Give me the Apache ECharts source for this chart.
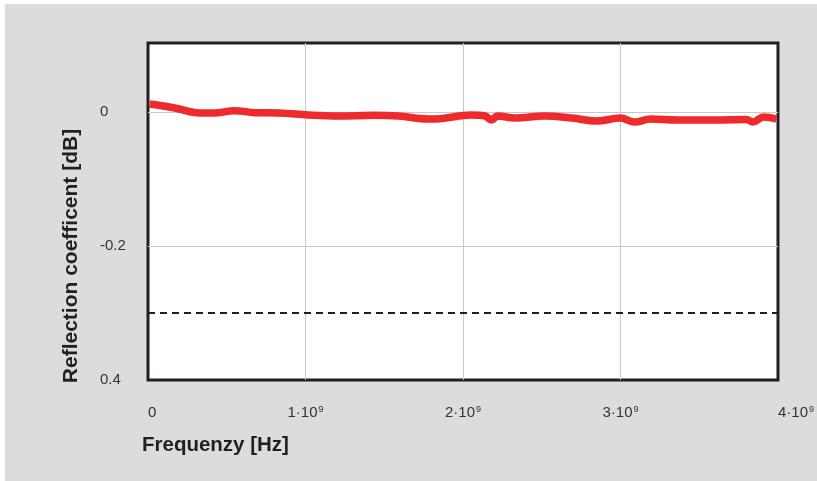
<!DOCTYPE html>
<html>
<head>
<meta charset="utf-8">
<script src="https://cdn.jsdelivr.net/npm/echarts@6/dist/echarts.min.js"></script>
<style>
  html, body { margin: 0; padding: 0; background: #fff; }
  #charts { position: absolute; left: 5px; top: 4px; width: 812px; height: 477px; background: #dcdcdd; }
</style>
</head>
<body>
<div id="charts"></div>
<script>
// frequency [Hz] and reflection coefficient [dB]
var freq = [0.01e9, 0.17e9, 0.33e9, 0.42e9, 0.55e9, 0.68e9, 0.83e9, 1.02e9, 1.21e9, 1.43e9,
            1.59e9, 1.78e9, 1.87e9, 2.05e9, 2.14e9, 2.18e9, 2.22e9, 2.33e9, 2.52e9, 2.69e9,
            2.85e9, 3.0e9, 3.09e9, 3.19e9, 3.36e9, 3.61e9, 3.80e9, 3.84e9, 3.91e9, 3.99e9];
var refl = [0.012, 0.006, -0.0015, -0.0015, 0.002, -0.001, -0.0015, -0.0045, -0.006, -0.005,
            -0.006, -0.0105, -0.0097, -0.0045, -0.006, -0.012, -0.006, -0.009, -0.006, -0.009,
            -0.0134, -0.009, -0.015, -0.0105, -0.012, -0.012, -0.011, -0.015, -0.0075, -0.0105];
var limit = -0.3;
var xTicks = {0: '{b|0}', 1e9: '{b|1·10}{s|9}', 2e9: '{b|2·10}{s|9}', 3e9: '{b|3·10}{s|9}', 4e9: '{b|4·10}{s|9}'};
var yTicks = {'0': '0', '-0.2': '-0.2', '-0.4': '0.4'};

var myChart = echarts.init(document.getElementById('charts'));
var font = 'Liberation Sans, Arial, sans-serif';

myChart.setOption({
  animation: false,
  grid: {
    left: 143, top: 39, right: 36, bottom: 101,
    show: true, borderColor: '#231f20', borderWidth: 3, backgroundColor: '#fff'
  },
  xAxis: {
    type: 'value', min: 0, max: 4e9, interval: 1e9,
    axisLine: { show: false }, axisTick: { show: false },
    axisLabel: {
      margin: 25, color: '#333', fontFamily: font,
      alignMinLabel: 'left', alignMaxLabel: 'left',
      formatter: function (v) { return xTicks[v]; },
      rich: {
        b: { fontSize: 15, color: '#333', fontFamily: font },
        s: { fontSize: 9, color: '#333', fontFamily: font, verticalAlign: 'top', padding: [0, 0, 0, 1] }
      }
    },
    splitLine: { showMinLine: false, showMaxLine: false, lineStyle: { color: '#c8c8c8', width: 1 } }
  },
  yAxis: {
    type: 'value', min: -0.4, max: 0.103, interval: 0.2,
    axisLine: { show: false }, axisTick: { show: false },
    axisLabel: {
      margin: 48, align: 'left', fontSize: 15, color: '#333', fontFamily: font,
      showMaxLabel: false, padding: [2, 0, 0, 0],
      formatter: function (v) { return yTicks[String(Math.round(v * 10) / 10)]; }
    },
    splitLine: { showMinLine: false, showMaxLine: false, lineStyle: { color: '#c8c8c8', width: 1 } }
  },
  graphic: [
    {
      type: 'text', x: 66, y: 252, rotation: Math.PI / 2,
      style: { text: 'Reflection coefficent [dB]', font: 'bold 21px ' + font, fill: '#231f20',
               align: 'center', verticalAlign: 'middle' }
    },
    {
      type: 'text', x: 137, y: 441,
      style: { text: 'Frequenzy [Hz]', font: 'bold 20.5px ' + font, fill: '#231f20',
               align: 'left', verticalAlign: 'middle' }
    }
  ],
  series: [{
    type: 'line',
    data: freq.map(function (f, i) { return [f, refl[i]]; }),
    smooth: 0.4,
    showSymbol: false,
    lineStyle: { color: '#ee2a2c', width: 7.5 },
    markLine: {
      silent: true, symbol: 'none', label: { show: false },
      lineStyle: { color: '#231f20', type: [7, 5], width: 2 },
      data: [{ yAxis: limit }]
    }
  }]
});
</script>
</body>
</html>
